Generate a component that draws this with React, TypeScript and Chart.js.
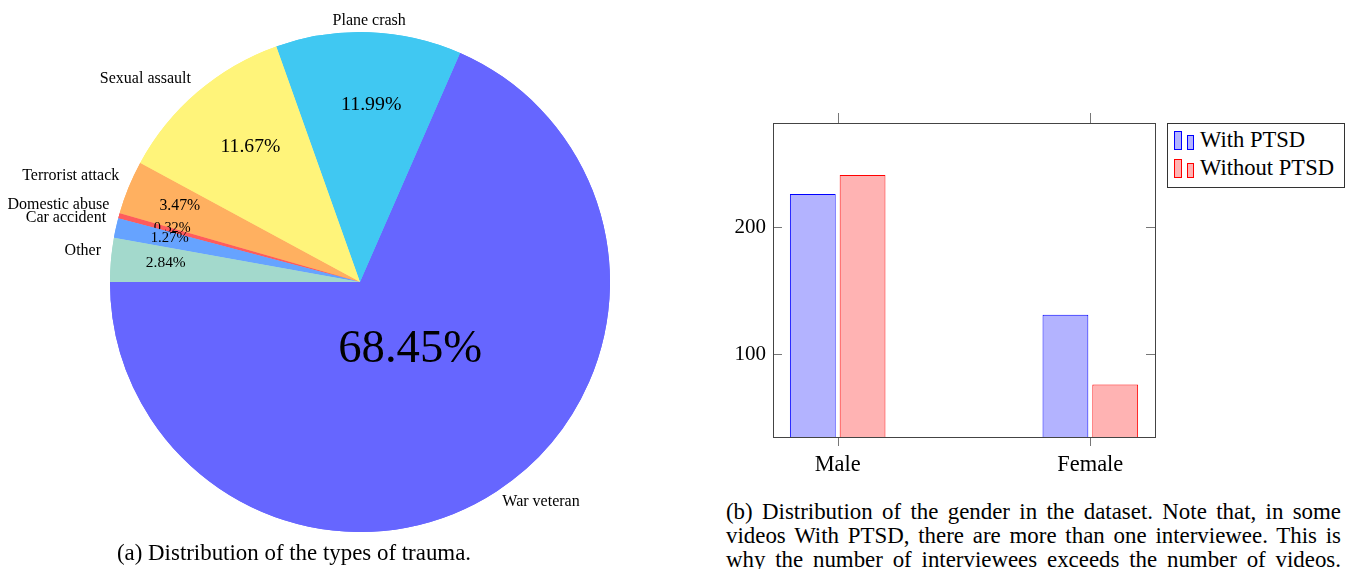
import React, { useEffect, useRef } from 'react';
import { Chart, registerables } from 'chart.js';

Chart.register(...registerables);

// ---- Pie data (clockwise from 9 o'clock) ----
const traumaLabels = ['Other', 'Car accident', 'Domestic abuse', 'Terrorist attack', 'Sexual assault', 'Plane crash', 'War veteran'];
const traumaShares = [2.84, 1.27, 0.32, 3.47, 11.67, 11.99, 68.45];
const traumaColors = ['#a3d9cc', '#66a3ff', '#ff5c5c', '#ffb060', '#fff47a', '#40c8f2', '#6666ff'];

// ---- Bar data ----
const genders = ['Male', 'Female'];
const withPTSD = [226, 131];
const withoutPTSD = [241, 76];
const yTickValues = [100, 200];

const SERIF = '"Liberation Serif", "Times New Roman", serif';

const pieLabelPlugin = {
  id: 'pieLabels',
  afterDatasetsDraw(chart: any) {
    const ctx = chart.ctx;
    const meta = chart.getDatasetMeta(0);
    const data = chart.data.datasets[0].data as number[];
    const labels = chart.data.labels as string[];
    for (let i = meta.data.length - 1; i >= 0; i--) {
      const arc = meta.data[i];
      const p = arc.getProps(['x', 'y', 'startAngle', 'endAngle', 'outerRadius'], true);
      arc.draw(ctx);
      const mid = (p.startAngle + p.endAngle) / 2;
      const c = Math.cos(mid);
      const s = Math.sin(mid);
      const v = data[i];
      const frac = v > 50 ? 0.33 : v > 5 ? 0.705 : 0.8;
      const fs = 14.1 + 0.476 * v;
      ctx.save();
      ctx.fillStyle = '#000';
      ctx.textAlign = 'center';
      ctx.textBaseline = 'middle';
      ctx.font = `${fs}px ${SERIF}`;
      ctx.fillText(v.toFixed(2) + '%', p.x + c * p.outerRadius * frac + 5, p.y + s * p.outerRadius * frac - 1);
      const r = p.outerRadius * 1.04;
      ctx.font = `16px ${SERIF}`;
      ctx.textAlign = c < -0.2 ? 'right' : c > 0.2 ? 'left' : 'center';
      ctx.fillText(labels[i], p.x + c * r, p.y + s * r - 1.5 + 7 * c);
      ctx.restore();
    }
  },
};

const framePlugin = {
  id: 'frame',
  afterDraw(chart: any) {
    const { ctx, chartArea } = chart;
    const { left, right, top, bottom } = chartArea;
    const xs = chart.scales.x;
    const ys = chart.scales.y;
    ctx.save();
    ctx.lineWidth = 1;
    ctx.strokeStyle = '#777';
    ctx.beginPath();
    xs.ticks.forEach((t: any) => {
      const px = Math.round(xs.getPixelForValue(t.value)) + 0.5;
      ctx.moveTo(px, top - 10);
      ctx.lineTo(px, top);
      ctx.moveTo(px, bottom);
      ctx.lineTo(px, bottom + 9);
    });
    ys.ticks.forEach((t: any) => {
      const py = Math.round(ys.getPixelForValue(t.value)) + 0.5;
      ctx.moveTo(left, py);
      ctx.lineTo(left + 9, py);
      ctx.moveTo(right - 9, py);
      ctx.lineTo(right, py);
    });
    ctx.stroke();
    ctx.strokeStyle = '#444';
    ctx.strokeRect(Math.round(left) + 0.5, Math.round(top) + 0.5, Math.round(right - left), Math.round(bottom - top));
    ctx.restore();
  },
};

function PieChart() {
  const ref = useRef<HTMLCanvasElement>(null);
  useEffect(() => {
    const chart = new Chart(ref.current as HTMLCanvasElement, {
      type: 'pie',
      data: {
        labels: traumaLabels,
        datasets: [{ data: traumaShares, backgroundColor: traumaColors, borderWidth: 0 }],
      },
      options: {
        animation: false,
        responsive: true,
        maintainAspectRatio: false,
        rotation: 270,
        layout: { padding: { left: 110, right: 110, top: 32, bottom: 13 } },
        plugins: { legend: { display: false }, tooltip: { enabled: false } },
      },
      plugins: [pieLabelPlugin],
    } as any);
    return () => chart.destroy();
  }, []);
  return (
    <div style={{ position: 'absolute', left: 0, top: 0, width: 720, height: 545 }}>
      <canvas ref={ref} />
    </div>
  );
}

function BarChart() {
  const ref = useRef<HTMLCanvasElement>(null);
  useEffect(() => {
    const chart = new Chart(ref.current as HTMLCanvasElement, {
      type: 'bar',
      data: {
        datasets: [
          {
            label: 'With PTSD',
            data: withPTSD.map((v, i) => ({ x: i, y: v })),
            backgroundColor: '#b3b3ff',
            borderColor: '#0000ff',
            borderWidth: 1,
            barPercentage: 0.92,
            categoryPercentage: 0.394,
          },
          {
            label: 'Without PTSD',
            data: withoutPTSD.map((v, i) => ({ x: i, y: v })),
            backgroundColor: '#ffb3b3',
            borderColor: '#ff0000',
            borderWidth: 1,
            barPercentage: 0.92,
            categoryPercentage: 0.394,
          },
        ],
      },
      options: {
        animation: false,
        responsive: true,
        maintainAspectRatio: false,
        layout: { padding: { left: 0, right: 194, top: 23, bottom: 0 } },
        plugins: { legend: { display: false }, tooltip: { enabled: false } },
        scales: {
          x: {
            type: 'linear',
            offset: false,
            min: -0.256,
            max: 1.256,
            afterBuildTicks: (s: any) => {
              s.ticks = genders.map((_, i) => ({ value: i }));
            },
            afterFit: (s: any) => {
              s.height = 43;
            },
            ticks: {
              callback: (v: any) => genders[v] ?? '',
              font: { family: SERIF, size: 22.4 },
              color: '#000',
              padding: 15,
              autoSkip: false,
              maxRotation: 0,
            },
            grid: { display: false, drawTicks: false, offset: false },
            border: { display: false },
          },
          y: {
            min: 34.6,
            max: 282,
            afterBuildTicks: (s: any) => {
              s.ticks = yTickValues.map((v) => ({ value: v }));
            },
            afterFit: (s: any) => {
              s.width = 73;
            },
            ticks: {
              font: { family: SERIF, size: 21 },
              color: '#000',
              padding: 7,
            },
            grid: { display: false, drawTicks: false },
            border: { display: false },
          },
        },
      },
      plugins: [framePlugin],
    } as any);
    return () => chart.destroy();
  }, []);
  return (
    <div style={{ position: 'absolute', left: 700, top: 100, width: 649, height: 380 }}>
      <canvas ref={ref} />
    </div>
  );
}

function Glyph({ fill, stroke }: { fill: string; stroke: string }) {
  return (
    <span style={{ display: 'inline-flex', alignItems: 'flex-end', gap: 5, marginRight: 6, height: 19 }}>
      <span style={{ display: 'inline-block', width: 6, height: 17, background: fill, border: `1px solid ${stroke}` }} />
      <span style={{ display: 'inline-block', width: 5, height: 13, background: fill, border: `1px solid ${stroke}` }} />
    </span>
  );
}

export default function App() {
  const seriesNames = ['With PTSD', 'Without PTSD'];
  const legendColors = [
    { fill: '#b3b3ff', stroke: '#0000ff' },
    { fill: '#ffb3b3', stroke: '#ff0000' },
  ];
  const capLine: React.CSSProperties = {
    textAlign: 'justify',
    textAlignLast: 'justify' as any,
    height: 24,
    whiteSpace: 'nowrap',
  };
  return (
    <div
      style={{
        position: 'fixed',
        left: 0,
        top: 0,
        width: 1349,
        height: 569,
        background: '#fff',
        overflow: 'hidden',
        fontFamily: SERIF,
        color: '#000',
      }}
    >
      <PieChart />
      <BarChart />
      <div
        style={{
          position: 'absolute',
          left: 1167,
          top: 123,
          width: 178,
          height: 65,
          boxSizing: 'border-box',
          border: '1px solid #333',
          background: '#fff',
          padding: '2px 0 0 6px',
          fontSize: 22.6,
          lineHeight: '28px',
        }}
      >
        {seriesNames.map((n, i) => (
          <div key={n} style={{ display: 'flex', alignItems: 'center', height: 28, whiteSpace: 'nowrap' }}>
            <Glyph fill={legendColors[i].fill} stroke={legendColors[i].stroke} />
            <span>{n}</span>
          </div>
        ))}
      </div>
      <div
        style={{
          position: 'absolute',
          left: 0,
          width: 588,
          top: 541,
          textAlign: 'center',
          fontSize: 22.9,
          lineHeight: '24px',
          whiteSpace: 'nowrap',
        }}
      >
        (a) Distribution of the types of trauma.
      </div>
      <div style={{ position: 'absolute', left: 726, width: 615, top: 500, fontSize: 22.9, lineHeight: '24px' }}>
        <div style={capLine}>(b) Distribution of the gender in the dataset. Note that, in some</div>
        <div style={capLine}>videos With PTSD, there are more than one interviewee. This is</div>
        <div style={capLine}>why the number of interviewees exceeds the number of videos.</div>
      </div>
    </div>
  );
}
